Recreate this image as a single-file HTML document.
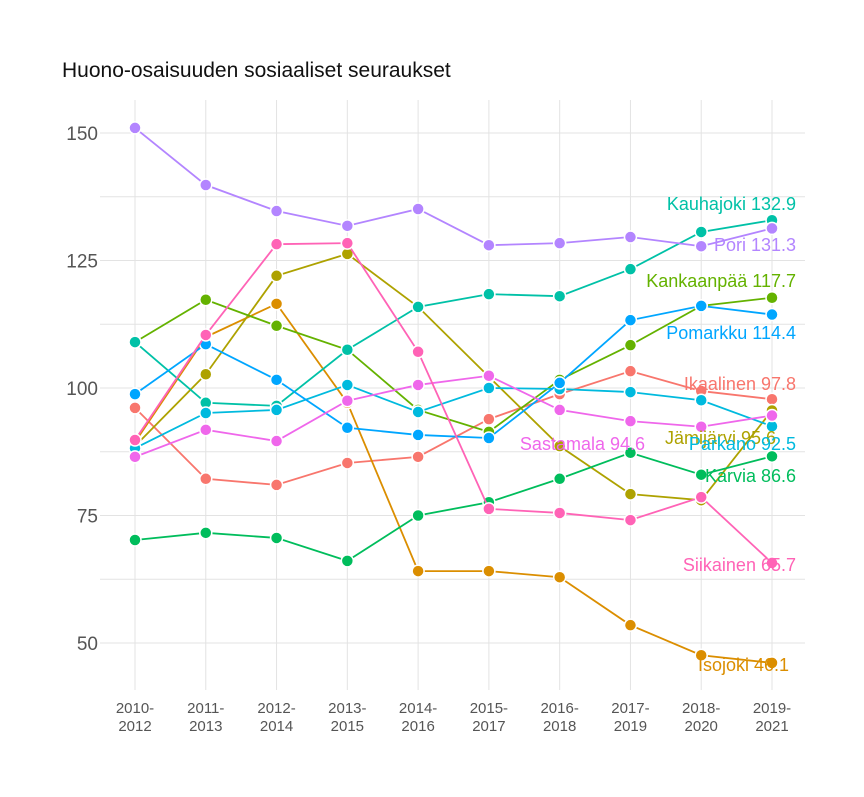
<!DOCTYPE html>
<html><head><meta charset="utf-8"><style>
body{margin:0;background:#fff;}
svg text{font-family:"Liberation Sans",sans-serif;}
</style></head><body>
<svg id="chart" width="864" height="792">
<text x="62" y="77" font-size="21" fill="#111">Huono-osaisuuden sosiaaliset seuraukset</text>
<g id="grid"></g><g id="axes"></g><g id="series"></g><g id="labels"></g>
</svg>
<script>
const periods=["2010-2012","2011-2013","2012-2014","2013-2015","2014-2016","2015-2017","2016-2018","2017-2019","2018-2020","2019-2021"];
const yTicks=[50,75,100,125,150];
const names=["Ikaalinen","Isojoki","Jämijärvi","Kankaanpää","Karvia","Kauhajoki","Parkano","Pomarkku","Pori","Sastamala","Siikainen"];
const colors=["#F8766D","#DB8E00","#AEA200","#64B200","#00BD5C","#00C1A7","#00BADE","#00A6FF","#B385FF","#EF67EB","#FF63B6"];
const ikaalinen=[96.1,82.2,81,85.3,86.5,93.9,98.8,103.3,99.4,97.8];
const isojoki=[89.4,110,116.5,97.1,64.1,64.1,62.9,53.5,47.6,46.1];
const jamijarvi=[88.6,102.7,122,126.3,115.9,102.2,88.6,79.2,78,95.6];
const kankaanpaa=[109,117.3,112.2,107.5,95.7,91.4,101.6,108.4,116.1,117.7];
const karvia=[70.2,71.6,70.6,66.1,75,77.6,82.2,87.3,83,86.6];
const kauhajoki=[109,97.1,96.5,107.5,115.9,118.4,118,123.3,130.6,132.9];
const parkano=[88.2,95.1,95.7,100.6,95.3,100,99.8,99.2,97.6,92.5];
const pomarkku=[98.8,108.6,101.6,92.2,90.8,90.2,101,113.3,116.1,114.4];
const pori=[151,139.8,134.7,131.8,135.1,128,128.4,129.6,127.8,131.3];
const sastamala=[86.5,91.8,89.6,97.5,100.6,102.4,95.7,93.5,92.4,94.6];
const siikainen=[89.8,110.4,128.2,128.4,107.1,76.3,75.5,74.1,78.6,65.7];
const seriesVals=[ikaalinen,isojoki,jamijarvi,kankaanpaa,karvia,kauhajoki,parkano,pomarkku,pori,sastamala,siikainen];
const labelY=[384,665,438,281,476,204,444,333,245,444,565];
const labelRight=[796,789,776,796,796,796,796,796,796,645,796];

const NS="http://www.w3.org/2000/svg";
const x=i=>135+i*(772-135)/(periods.length-1);
const y=v=>133+(150-v)*5.1;
function mk(tag,attrs,parent){const e=document.createElementNS(NS,tag);for(const k in attrs)e.setAttribute(k,attrs[k]);parent.appendChild(e);return e;}
const grid=document.getElementById('grid'),axes=document.getElementById('axes'),ser=document.getElementById('series'),lab=document.getElementById('labels');
for(let v=50;v<=150;v+=12.5){const l=mk('line',{x1:100,x2:805,y1:y(v),y2:y(v),stroke:'#e3e3e3','stroke-width':1},grid);

}
periods.forEach((p,i)=>{const l=mk('line',{x1:x(i),x2:x(i),y1:100,y2:690,stroke:'#e3e3e3','stroke-width':1},grid);


const parts=p.split('-');
const t=mk('text',{x:x(i),y:713,'text-anchor':'middle','font-size':15,fill:'#555'},axes);


t.textContent=parts[0]+'-';
const t2=mk('text',{x:x(i),y:731,'text-anchor':'middle','font-size':15,fill:'#555'},axes);


t2.textContent=parts[1];});
yTicks.forEach(v=>{const t=mk('text',{x:98,y:y(v)+7,'text-anchor':'end','font-size':19,fill:'#555'},axes);


t.textContent=v;});
seriesVals.forEach((vals,s)=>{const g=mk('g',{},ser);


const pl=mk('polyline',{points:vals.map((v,i)=>x(i)+','+y(v)).join(' '),fill:'none',stroke:colors[s],'stroke-width':1.8},g);


vals.forEach((v,i)=>{const c=mk('circle',{cx:x(i),cy:y(v),r:6,fill:colors[s],stroke:'#fff','stroke-width':1.5},g);

});});
seriesVals.forEach((vals,s)=>{const t=mk('text',{x:labelRight[s],y:labelY[s]+6,'text-anchor':'end','font-size':18,fill:colors[s]},lab);


t.textContent=names[s]+' '+vals[vals.length-1].toFixed(1);});
</script>
</body></html>
